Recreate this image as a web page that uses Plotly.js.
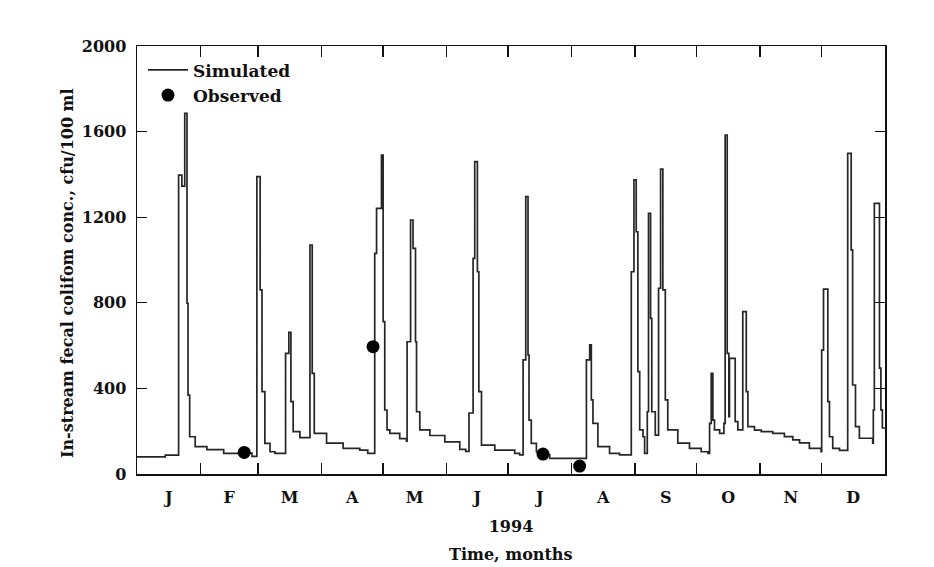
<!DOCTYPE html>
<html>
<head>
<meta charset="utf-8">
<script src="https://cdn.plot.ly/plotly-3.0.1.min.js"></script>
<style>html,body{margin:0;padding:0;background:#fff;}#chart{width:934px;height:567px;}</style>
</head>
<body>
<div id="chart"></div>
<script>
// Simulated in-stream fecal coliform (day of year 1994, cfu/100 ml), step series
const simDay = [0, 13.8, 20.3, 21.9, 23.3, 24.4, 24.9, 25.7, 28.4, 34.1, 42.3, 50.2, 56.1,
  58.5, 60.1, 61.0, 62.4, 64.9, 67.3, 72.5, 74.1, 75.1, 76.2, 79.5,
  84.4, 85.5, 86.5, 92.5, 100.6, 108.7, 112.6,
  116.0, 116.9, 119.3, 120.1, 120.9, 122.0, 123.4, 128.2, 131.5,
  131.8, 133.5, 134.7, 135.9, 136.4, 138.0, 142.9, 150.2, 157.5, 160.4,
  162.0, 164.0, 164.8, 166.1, 166.8, 168.1, 174.6, 184.3, 186.7,
  188.4, 189.7, 190.8, 191.3, 192.4, 194.9, 198.9, 201.4,
  219.3, 220.9, 221.7, 222.5, 224.9, 230.6, 235.5,
  241.2, 242.5, 243.6, 244.4, 245.3, 246.9, 247.7, 249.0, 249.6, 250.6, 251.2, 252.9,
  254.5, 255.5, 256.6, 257.8, 259.0, 263.9, 269.6, 275.3, 278.6,
  279.4, 280.2, 281.0, 281.8, 284.3, 286.4, 287.0, 288.0, 288.8, 289.1, 291.9, 293.2,
  295.6, 297.3, 298.1, 301.3, 304.6, 310.2, 315.9, 320.0, 323.3, 328.1, 333.8,
  334.1, 335.0, 337.1, 337.9, 339.5, 342.8,
  346.8, 348.5, 349.2, 350.6, 352.5, 359.0, 359.3, 359.8, 362.3, 363.0, 363.7, 365];
const simConc = [80, 88, 1397, 1345, 1685, 798, 369, 174, 128, 114, 96, 98, 82,
  1390, 860, 385, 143, 104, 96, 564, 662, 338, 198, 170,
  1070, 470, 190, 144, 120, 112, 96,
  1031, 1241, 1490, 712, 299, 206, 190, 165, 154,
  618, 1187, 1054, 618, 291, 206, 180, 150, 115, 106,
  285, 1008, 1460, 945, 385, 135, 112, 96, 89,
  533, 1296, 556, 252, 143, 104, 90, 73,
  533, 603, 346, 237, 128, 96, 89,
  945, 1374, 1132, 478, 206, 174, 96, 291, 1218, 727, 291, 182,
  868, 1425, 860, 346, 206, 144, 120, 104, 96,
  237, 470, 252, 206, 190, 237, 1584, 564, 268, 540, 245, 206,
  759, 385, 221, 205, 198, 190, 175, 159, 145, 120, 104,
  579, 864, 338, 174, 120, 110,
  1498, 1047, 416, 221, 167, 144, 299, 1265, 495, 300, 215, 215];

// Observed samples
const obsDay = [52.3, 115.2, 198.1, 216.0];
const obsConc = [101, 595, 93, 37];

// Axis ticks
const monthStart = [31, 59, 90, 120, 151, 181, 212, 243, 273, 304, 334];
const monthMid = [15.5, 45, 74.5, 105, 135.5, 166, 196.5, 227.5, 258, 288.5, 319, 349.5];
const monthLabels = ['J', 'F', 'M', 'A', 'M', 'J', 'J', 'A', 'S', 'O', 'N', 'D'];
const yTicks = [0, 400, 800, 1200, 1600, 2000];

const serif = 'DejaVu Serif, Liberation Serif, serif';
const boldFont = (s) => ({family: serif, size: s, color: '#111', weight: 'bold'});

const traces = [
  {
    x: simDay, y: simConc, type: 'scatter', mode: 'lines', name: 'Simulated',
    xaxis: 'x', yaxis: 'y',
    line: {color: '#262626', width: 1.7, shape: 'hv'}
  },
  {
    x: obsDay, y: obsConc, type: 'scatter', mode: 'markers', name: 'Observed',
    xaxis: 'x2', yaxis: 'y',
    marker: {color: '#000', size: 13, symbol: 'circle'}
  }
];

const layout = {
  width: 934, height: 567,
  margin: {l: 137, r: 49, t: 46, b: 93},
  paper_bgcolor: '#fff', plot_bgcolor: '#fff',
  showlegend: true,
  legend: {x: 0.008, y: 0.985, xanchor: 'left', yanchor: 'top', bgcolor: 'rgba(0,0,0,0)',
    font: boldFont(17), itemwidth: 40},
  xaxis: {
    range: [0, 365], tickmode: 'array', tickvals: monthStart, showticklabels: false,
    ticks: 'inside', ticklen: 11, tickwidth: 1.2, tickcolor: '#111',
    showline: true, linecolor: '#111', linewidth: 1.5, mirror: 'ticks',
    showgrid: false, zeroline: false, fixedrange: true
  },
  xaxis2: {
    overlaying: 'x', anchor: 'y', side: 'bottom', range: [0, 365],
    tickmode: 'array', tickvals: monthMid, ticktext: monthLabels,
    ticks: '', showline: false, showgrid: false, zeroline: false,
    tickfont: boldFont(16), ticklabelstandoff: 12,
    title: {text: '1994', font: boldFont(16)}
  },
  yaxis: {
    range: [0, 2000], tickmode: 'array', tickvals: yTicks,
    ticks: 'inside', ticklen: 10, tickwidth: 1.2, tickcolor: '#111',
    showline: true, linecolor: '#111', linewidth: 1.5, mirror: 'ticks',
    showgrid: false, zeroline: false, tickfont: boldFont(16), ticklabelstandoff: 6
  },
  annotations: [
    {text: 'Time, months', xref: 'paper', yref: 'paper', x: 0.5, y: -0.189, xanchor: 'center', yanchor: 'middle',
     showarrow: false, font: boldFont(16)},
    {text: 'In-stream fecal colifom conc., cfu/100 ml', xref: 'paper', yref: 'paper', x: -0.092, y: 0.47,
     xanchor: 'center', yanchor: 'middle', textangle: -90, showarrow: false, font: boldFont(16)}
  ]
};

Plotly.newPlot('chart', traces, layout, {displayModeBar: false, staticPlot: true});
</script>
</body>
</html>
